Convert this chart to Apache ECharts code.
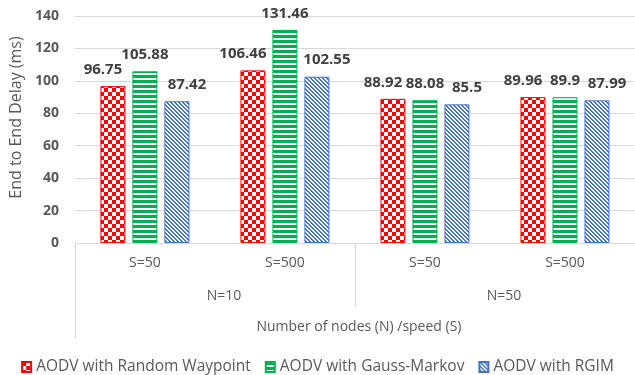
<!DOCTYPE html>
<html lang="en">
<head>
    <meta charset="UTF-8">
    <title>End to End Delay</title>
    <script src="https://cdn.jsdelivr.net/npm/echarts@6/dist/echarts.min.js"></script>
    <style>
        html, body { margin: 0; padding: 0; background: #fff; }
        #chart1 { width: 635px; height: 375px; }
    </style>
</head>
<body>
    <div id="chart1"></div>
    <script type="text/javascript">
        // data
        var speedLabels = ['S=50', 'S=500', 'S=50', 'S=500'];
        var nodeLabels = ['N=10', 'N=50'];
        var axisTitle = ['Number of nodes (N) /speed (S)'];
        var seriesNames = ['AODV with Random Waypoint', 'AODV with Gauss-Markov', 'AODV with RGIM'];
        var randomWaypoint = [96.75, 106.46, 88.92, 89.96];
        var gaussMarkov = [105.88, 131.46, 88.08, 89.9];
        var rgim = [87.42, 102.55, 85.5, 87.99];
        var yTicks = { min: 0, max: 140, interval: 20 };

        // small canvases used as fill patterns
        function checker(color) {
            var c = document.createElement('canvas');
            c.width = 8; c.height = 8;
            var ctx = c.getContext('2d');
            ctx.fillStyle = '#fff';
            ctx.fillRect(0, 0, 8, 8);
            ctx.fillStyle = color;
            ctx.fillRect(0, 0, 4, 4);
            ctx.fillRect(4, 4, 4, 4);
            return c;
        }
        function hstripes(color) {
            var c = document.createElement('canvas');
            c.width = 4; c.height = 5;
            var ctx = c.getContext('2d');
            ctx.fillStyle = '#fff';
            ctx.fillRect(0, 0, 4, 5);
            ctx.fillStyle = color;
            ctx.fillRect(0, 0, 4, 3);
            return c;
        }
        function diag(color) {
            var c = document.createElement('canvas');
            c.width = 4; c.height = 4;
            var ctx = c.getContext('2d');
            ctx.fillStyle = '#fff';
            ctx.fillRect(0, 0, 4, 4);
            ctx.fillStyle = color;
            for (var i = 0; i < 4; i++) {
                ctx.fillRect(i, i, 1, 1);
                ctx.fillRect((i + 1) % 4, i, 1, 1);
            }
            return c;
        }

        var red = '#ff0000', green = '#00b050', blue = '#4472c4';
        var fills = [
            { image: checker(red), repeat: 'repeat' },
            { image: hstripes(green), repeat: 'repeat' },
            { image: diag(blue), repeat: 'repeat' }
        ];
        var borders = [red, green, blue];
        var labelShift = [-10, 0, 10];
        var values = [randomWaypoint, gaussMarkov, rgim];

        var chart1 = echarts.init(document.getElementById('chart1'));
        var font = '"Open Sans", "Noto Sans", sans-serif';

        var option = {
            backgroundColor: '#fff',
            textStyle: { fontFamily: font },
            grid: { left: 73, right: 0, top: 16, bottom: 132 },
            legend: {
                data: seriesNames,
                left: 'center',
                top: 354,
                itemWidth: 9,
                itemHeight: 10,
                itemGap: 14,
                icon: 'rect',
                textStyle: { color: '#595959', fontSize: 15.5, fontFamily: font }
            },
            xAxis: [{
                type: 'category',
                position: 'bottom',
                data: speedLabels,
                axisLine: { lineStyle: { color: '#d9d9d9' } },
                axisTick: { show: false },
                axisLabel: { color: '#595959', fontSize: 14, margin: 13 }
            }, {
                type: 'category',
                position: 'bottom',
                data: nodeLabels,
                axisLine: { show: false },
                axisTick: { show: true, length: 64, lineStyle: { color: '#d9d9d9' } },
                axisLabel: { color: '#595959', fontSize: 14, margin: 46, padding: [0, 0, 0, 18] }
            }, {
                type: 'category',
                position: 'bottom',
                data: axisTitle,
                axisLine: { show: false },
                axisTick: { show: true, length: 95, lineStyle: { color: '#d9d9d9' } },
                axisLabel: { color: '#595959', fontSize: 14, margin: 77, padding: [0, 0, 0, 8] }
            }],
            yAxis: {
                type: 'value',
                min: yTicks.min,
                max: yTicks.max,
                interval: yTicks.interval,
                name: 'End to End Delay (ms)',
                nameLocation: 'middle',
                nameGap: 50,
                nameTextStyle: { color: '#595959', fontSize: 16, padding: [0, 0, 0, 24] },
                axisLine: { show: false },
                axisTick: { show: false },
                splitLine: { lineStyle: { color: '#d9d9d9' } },
                axisLabel: { color: '#595959', fontSize: 14, fontWeight: 'bold', margin: 16 }
            },
            series: seriesNames.map(function (name, i) {
                return {
                    name: name,
                    type: 'bar',
                    xAxisIndex: 0,
                    data: values[i],
                    barWidth: 25,
                    barGap: '28%',
                    itemStyle: { color: fills[i], borderColor: borders[i], borderWidth: 1 },
                    label: {
                        show: true,
                        position: 'top',
                        distance: 9,
                        offset: [labelShift[i], 0],
                        color: '#404040',
                        fontSize: 15,
                        fontWeight: 'bold',
                        fontFamily: font
                    },
                    animation: false
                };
            })
        };

        chart1.setOption(option);
    </script>
</body>
</html>
